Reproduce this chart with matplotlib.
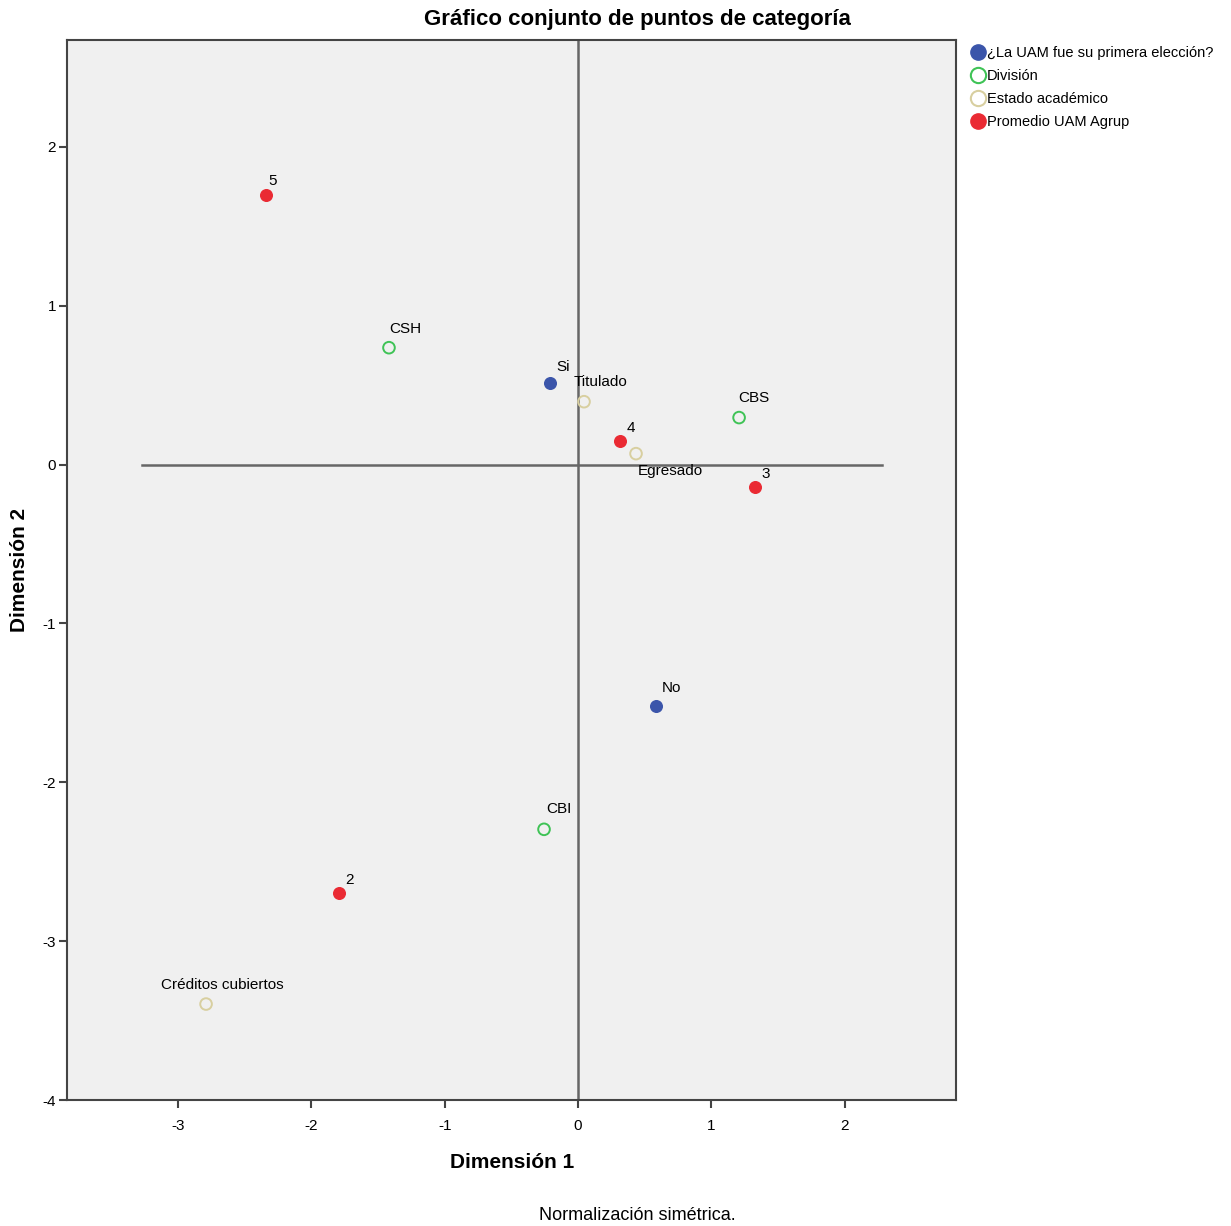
import matplotlib
matplotlib.use("Agg")
import matplotlib.pyplot as plt
from matplotlib.lines import Line2D

# category points (Dimensión 1, Dimensión 2)
primera_labels = ["Si", "No"]
primera_x = [-0.21, 0.585]
primera_y = [0.516, -1.522]

division_labels = ["CSH", "CBS", "CBI"]
division_x = [-1.418, 1.208, -0.255]
division_y = [0.736, 0.296, -2.296]

estado_labels = ["Titulado", "Egresado", "Créditos cubiertos"]
estado_x = [0.045, 0.435, -2.79]
estado_y = [0.396, 0.069, -3.396]

promedio_labels = ["5", "4", "3", "2"]
promedio_x = [-2.34, 0.315, 1.328, -1.793]
promedio_y = [1.70, 0.151, -0.138, -2.698]

legend_names = ["¿La UAM fue su primera elección?", "División",
                "Estado académico", "Promedio UAM Agrup"]

# label offsets in pixels (text centre relative to point)
offsets = {
    "Si": (13, 16), "No": (15, 18),
    "CSH": (16, 19), "CBS": (15, 20), "CBI": (15, 20),
    "Titulado": (16, 20), "Egresado": (34, -17), "Créditos cubiertos": (16, 19),
    "5": (7, 14), "4": (11, 13), "3": (11, 13), "2": (11, 13),
}

BLUE = "#3b55aa"
GREEN = "#3fc356"
TAN = "#d8cfa0"
RED = "#ea2a33"

plt.rcParams["font.family"] = ["Liberation Sans", "DejaVu Sans"]
plt.rcParams["axes.unicode_minus"] = False

fig = plt.figure(figsize=(12.31, 12.26), dpi=100)
ax = fig.add_axes([67 / 1231, 1 - 1100 / 1226, (956 - 67) / 1231, (1100 - 40) / 1226])
ax.set_facecolor("#f0f0f0")

ax.set_xlim(-3.833, 2.835)
ax.set_ylim(-4, 2.673)

# reference lines
ax.plot([-3.27, 2.28], [0, 0], color="#666666", lw=1.8, zorder=1)
ax.axvline(0, color="#666666", lw=1.8, zorder=1)

groups = [
    (primera_labels, primera_x, primera_y, BLUE, True),
    (division_labels, division_x, division_y, GREEN, False),
    (estado_labels, estado_x, estado_y, TAN, False),
    (promedio_labels, promedio_x, promedio_y, RED, True),
]

for labels, xs, ys, col, filled in groups:
    if filled:
        ax.scatter(xs, ys, s=70, color=col, edgecolors=col, linewidths=1, zorder=3)
    else:
        ax.scatter(xs, ys, s=70, facecolors="none", edgecolors=col, linewidths=1.4, zorder=3)
    for lab, x, y in zip(labels, xs, ys):
        dx, dy = offsets[lab]
        ax.annotate(lab, (x, y), xytext=(dx, dy), textcoords="offset pixels",
                    ha="center", va="center", fontsize=11, color="black")

ax.set_xticks([-3, -2, -1, 0, 1, 2])
ax.set_yticks([-4, -3, -2, -1, 0, 1, 2])
ax.tick_params(axis="both", direction="out", length=6, width=1.5,
               color="#444444", labelsize=11)
ax.tick_params(axis="x", pad=8)
ax.tick_params(axis="y", pad=2)
for sp in ax.spines.values():
    sp.set_color("#444444")
    sp.set_linewidth(1.5)

fig.text(637 / 1231, 1 - 20 / 1226, "Gráfico conjunto de puntos de categoría",
         ha="center", va="center", fontsize=16, fontweight="bold")
fig.text(512 / 1231, 1 - 1162 / 1226, "Dimensión 1",
         ha="center", va="center", fontsize=15, fontweight="bold")
fig.text(20 / 1231, 1 - 570 / 1226, "Dimensión 2", rotation=90,
         ha="center", va="center", fontsize=15, fontweight="bold")
fig.text(637 / 1231, 1 - 1215 / 1226, "Normalización simétrica.",
         ha="center", va="center", fontsize=13)

handles = [
    Line2D([], [], ls="none", marker="o", ms=11, color=BLUE),
    Line2D([], [], ls="none", marker="o", ms=11, mfc="none", mec=GREEN, mew=1.5),
    Line2D([], [], ls="none", marker="o", ms=11, mfc="none", mec=TAN, mew=1.5),
    Line2D([], [], ls="none", marker="o", ms=11, color=RED),
]
fig.legend(handles, legend_names, loc="upper left",
           bbox_to_anchor=(972 / 1231, 1 - 46 / 1226), frameon=False,
           fontsize=10.5, handlelength=0.8, handletextpad=0.2,
           labelspacing=0.62, borderaxespad=0, borderpad=0)

fig.savefig("out.png", dpi=100)
